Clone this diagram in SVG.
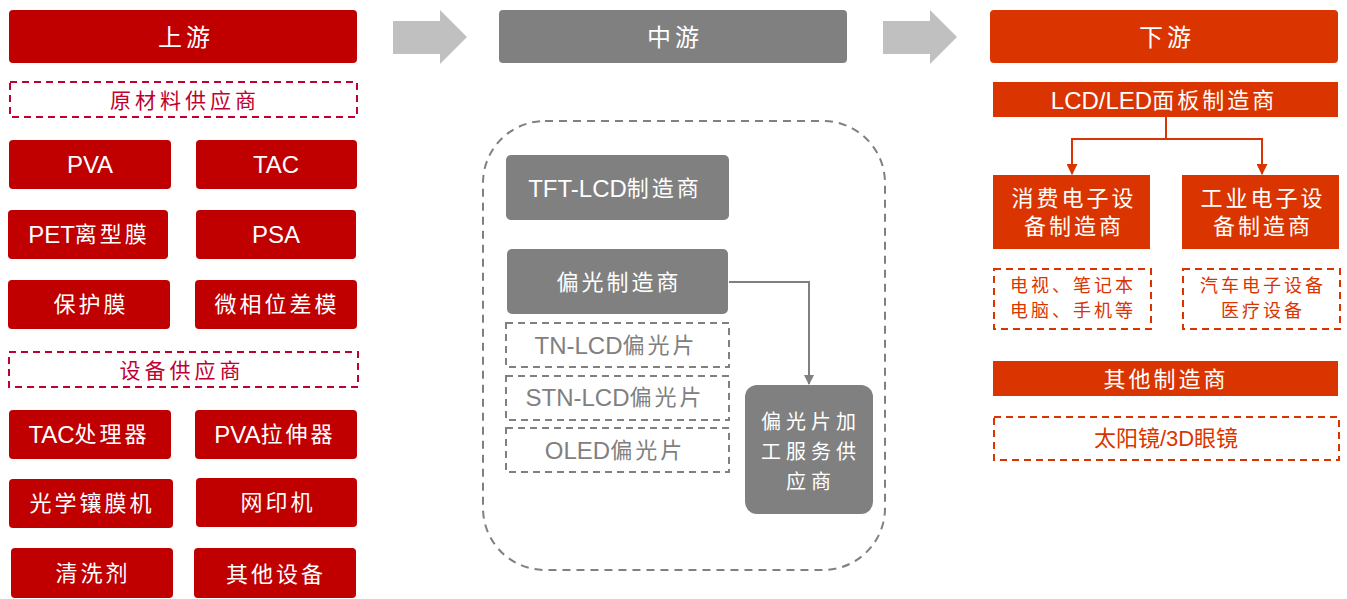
<svg xmlns="http://www.w3.org/2000/svg" width="1347" height="599" viewBox="0 0 1347 599">
<style>
text{font-family:"Liberation Sans","Noto Sans CJK SC",sans-serif;text-anchor:middle;dominant-baseline:central}
.red{fill:#C00000}
.grey{fill:#808080}
.org{fill:#DA3500}
.w{fill:#fff;font-size:24px}
.c{font-size:22px;letter-spacing:3px}
.h{fill:#fff;font-size:24px;letter-spacing:4px}
.dr{fill:#fff;stroke:#C00030;stroke-width:2;stroke-dasharray:7 5}
.dg{fill:#fff;stroke:#808080;stroke-width:2;stroke-dasharray:7 5}
.do{fill:#fff;stroke:#DA3500;stroke-width:2;stroke-dasharray:7 5}
.tr{fill:#C00030;font-size:21px;letter-spacing:4px}
.tg{fill:#808080;font-size:24px}
.to{fill:#DA3500;font-size:18px;letter-spacing:3px}
.arrow{fill:#C0C0C0}
</style>
<defs>
<marker id="mg" viewBox="0 0 10 10" refX="9" refY="5" markerWidth="10" markerHeight="10" markerUnits="userSpaceOnUse" orient="auto"><path d="M0,0 L10,5 L0,10 z" fill="#808080"/></marker>
<marker id="mo" viewBox="0 0 10 10" refX="9" refY="5" markerWidth="11" markerHeight="11" markerUnits="userSpaceOnUse" orient="auto"><path d="M0,0 L10,5 L0,10 z" fill="#DA3500"/></marker>
</defs>

<g id="arrows-big">
<path class="arrow" d="M393,21 L440,21 L440,10 L467,37 L440,64 L440,54 L393,54 z"/>
<path class="arrow" d="M883,21 L930,21 L930,10 L957,37 L930,64 L930,54 L883,54 z"/>
</g>

<!-- Upstream -->
<g id="up-header"><rect class="red" x="9" y="10" width="348" height="53" rx="4"/><text class="h" x="186" y="37">上游</text></g>
<g id="raw"><rect class="dr" x="10" y="82" width="347" height="35"/><text class="tr" x="185" y="100">原材料供应商</text></g>
<g id="pva"><rect class="red" x="9" y="140" width="162" height="49" rx="4"/><text class="w" x="90" y="164">PVA</text></g>
<g id="tac"><rect class="red" x="196" y="140" width="161" height="49" rx="4"/><text class="w" x="276" y="164">TAC</text></g>
<g id="pet"><rect class="red" x="8" y="210" width="160" height="49" rx="4"/><text class="w" x="89" y="234">PET<tspan class="c">离型膜</tspan></text></g>
<g id="psa"><rect class="red" x="196" y="210" width="160" height="49" rx="4"/><text class="w" x="276" y="234">PSA</text></g>
<g id="bhm"><rect class="red" x="8" y="280" width="162" height="49" rx="4"/><text class="w c" x="91" y="304">保护膜</text></g>
<g id="wxw"><rect class="red" x="195" y="280" width="162" height="49" rx="4"/><text class="w c" x="277" y="304">微相位差模</text></g>
<g id="equip"><rect class="dr" x="9" y="352" width="349" height="35"/><text class="tr" x="182" y="370">设备供应商</text></g>
<g id="tacp"><rect class="red" x="9" y="410" width="162" height="49" rx="4"/><text class="w" x="89" y="434">TAC<tspan class="c">处理器</tspan></text></g>
<g id="pvas"><rect class="red" x="195" y="410" width="162" height="49" rx="4"/><text class="w" x="275" y="434">PVA<tspan class="c">拉伸器</tspan></text></g>
<g id="gxm"><rect class="red" x="9" y="479" width="164" height="49" rx="4"/><text class="w c" x="92" y="503">光学镶膜机</text></g>
<g id="wyj"><rect class="red" x="196" y="478" width="161" height="49" rx="4"/><text class="w c" x="278" y="502">网印机</text></g>
<g id="qxj"><rect class="red" x="11" y="548" width="162" height="50" rx="4"/><text class="w c" x="93" y="573">清洗剂</text></g>
<g id="qtsb"><rect class="red" x="194" y="548" width="162" height="50" rx="4"/><text class="w c" x="276" y="574">其他设备</text></g>

<!-- Midstream -->
<g id="mid-header"><rect class="grey" x="499" y="10" width="348" height="53" rx="4"/><text class="h" x="675" y="37">中游</text></g>
<g id="mid-container"><rect x="483" y="121" width="402" height="449" rx="62" fill="none" stroke="#808080" stroke-width="2" stroke-dasharray="8 6"/></g>
<g id="tft"><rect class="grey" x="506" y="155" width="223" height="65" rx="5"/><text class="w" x="615" y="188">TFT-LCD<tspan class="c">制造商</tspan></text></g>
<g id="pgz"><rect class="grey" x="507" y="249" width="221" height="65" rx="5"/><text class="w c" x="619" y="282">偏光制造商</text></g>
<g id="tn"><rect class="dg" x="506" y="323" width="223" height="44"/><text class="tg" x="616" y="345">TN-LCD<tspan class="c">偏光片</tspan></text></g>
<g id="stn"><rect class="dg" x="506" y="376" width="223" height="44"/><text class="tg" x="615" y="397">STN-LCD<tspan class="c">偏光片</tspan></text></g>
<g id="oled"><rect class="dg" x="506" y="428" width="223" height="44"/><text class="tg" x="615" y="450">OLED<tspan class="c">偏光片</tspan></text></g>
<g id="jg"><rect class="grey" x="745" y="385" width="128" height="129" rx="12"/>
<text class="w" x="811" y="422" letter-spacing="5" style="font-size:20px">偏光片加</text>
<text class="w" x="811" y="452" letter-spacing="5" style="font-size:20px">工服务供</text>
<text class="w" x="811" y="482" letter-spacing="5" style="font-size:20px">应商</text></g>

<!-- Downstream -->
<g id="down-header"><rect class="org" x="990" y="10" width="348" height="53" rx="4"/><text class="h" x="1167" y="37">下游</text></g>
<g id="panel"><rect class="org" x="993" y="82" width="345" height="35"/><text class="w" x="1164" y="100">LCD/LED<tspan class="c">面板制造商</tspan></text></g>
<g id="xf"><rect class="org" x="993" y="175" width="157" height="74"/><text class="w c" x="1074" y="198">消费电子设</text><text class="w c" x="1074" y="226">备制造商</text></g>
<g id="gy"><rect class="org" x="1182" y="175" width="157" height="74"/><text class="w c" x="1263" y="198">工业电子设</text><text class="w c" x="1263" y="226">备制造商</text></g>
<g id="xf-ex"><rect class="do" x="994" y="269" width="157" height="60"/><text class="to" x="1073" y="286">电视、笔记本</text><text class="to" x="1073" y="311">电脑、手机等</text></g>
<g id="gy-ex"><rect class="do" x="1183" y="269" width="157" height="60"/><text class="to" x="1263" y="286">汽车电子设备</text><text class="to" x="1263" y="311">医疗设备</text></g>
<g id="other"><rect class="org" x="993" y="361" width="345" height="35"/><text class="w c" x="1166" y="379">其他制造商</text></g>
<g id="sun"><rect class="do" x="994" y="417" width="345" height="43"/><text x="1166" y="438" fill="#DA3500" style="font-size:22px">太阳镜/3D眼镜</text></g>

<g id="connectors">
<path d="M729,282 L809,282 L809,384" fill="none" stroke="#808080" stroke-width="2" marker-end="url(#mg)"/>
<path d="M1166,117 L1166,139" fill="none" stroke="#DA3500" stroke-width="2"/>
<path d="M1072,139 L1262,139" fill="none" stroke="#DA3500" stroke-width="2"/>
<path d="M1072,138 L1072,174" fill="none" stroke="#DA3500" stroke-width="2" marker-end="url(#mo)"/>
<path d="M1262,138 L1262,174" fill="none" stroke="#DA3500" stroke-width="2" marker-end="url(#mo)"/>
</g>
</svg>
